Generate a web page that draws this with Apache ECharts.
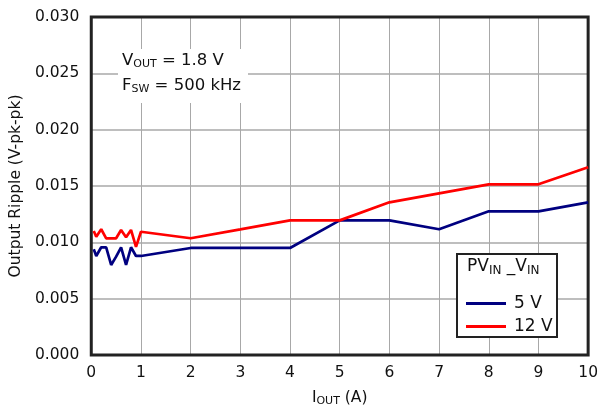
<!DOCTYPE html>
<html><head><meta charset="utf-8">
<script src="https://cdn.jsdelivr.net/npm/echarts@6/dist/echarts.min.js"></script>
<style>html,body{margin:0;padding:0;background:#fff}#c{width:601px;height:412px}</style>
</head><body><div id="c"></div>
<script>
var iout = [0.05, 0.1, 0.2, 0.3, 0.4, 0.5, 0.6, 0.7, 0.8, 0.9, 1, 2, 3, 4, 5, 6, 7, 8, 9, 10];
var ripple5V = [0.00938, 0.00879, 0.00956, 0.00956, 0.00799, 0.00873, 0.00956, 0.00799, 0.00956, 0.00879, 0.00879, 0.0095, 0.0095, 0.0095, 0.01195, 0.01195, 0.01116, 0.01275, 0.01275, 0.01355];
var ripple12V = [0.0110, 0.0105, 0.01116, 0.01036, 0.01036, 0.01036, 0.0111, 0.01045, 0.0111, 0.0096, 0.01094, 0.01036, 0.01115, 0.01195, 0.01195, 0.01355, 0.01435, 0.01515, 0.01515, 0.01666];
var seriesNames = ['5 V', '12 V'];
var xTicks = {min: 0, max: 10, interval: 1};
var yTicks = {min: 0, max: 0.03, interval: 0.005};

function pairs(xs, ys) { return xs.map(function (x, i) { return [x, ys[i]]; }); }

var font = 'DejaVu Sans, Liberation Sans, Arial, sans-serif';
var chart = echarts.init(document.getElementById('c'));
chart.setOption({
  animation: false,
  grid: {left: 89, right: 11, top: 17, bottom: 57, show: true, borderColor: '#222', borderWidth: 3, z: 3},
  xAxis: {
    type: 'value', min: xTicks.min, max: xTicks.max, interval: xTicks.interval,
    axisLine: {show: false}, axisTick: {show: false},
    axisLabel: {fontFamily: font, fontSize: 15.5, color: '#111', margin: 10},
    splitLine: {show: true, lineStyle: {color: '#a8a8a8', width: 1}},
    name: '{n|I}{s|OUT}{n| (A)}', nameLocation: 'middle', nameGap: 34,
    nameTextStyle: {rich: {n: {fontFamily: font, fontSize: 15.5, color: '#111'}, s: {fontFamily: font, fontSize: 11, color: '#111', padding: [7, 0, 0, 0]}}}
  },
  yAxis: {
    type: 'value', min: yTicks.min, max: yTicks.max, interval: yTicks.interval,
    axisLine: {show: false}, axisTick: {show: false},
    axisLabel: {fontFamily: font, fontSize: 15.5, color: '#111', margin: 12, formatter: function (v) { return v.toFixed(3); }},
    splitLine: {show: true, lineStyle: {color: '#a8a8a8', width: 1.5}},
    name: 'Output Ripple (V-pk-pk)', nameLocation: 'middle', nameGap: 60,
    nameTextStyle: {fontFamily: font, fontSize: 15.5, color: '#111'}
  },
  legend: {
    data: seriesNames, orient: 'vertical', left: 461, top: 290, z: 10,
    icon: 'rect', itemWidth: 40, itemHeight: 3, itemGap: 6,
    textStyle: {fontFamily: font, fontSize: 17, color: '#111', padding: [0, 0, 0, 3]}
  },
  graphic: [
    {type: 'rect', z: 8, shape: {x: 457, y: 254, width: 100, height: 83}, style: {fill: '#fff', stroke: '#222', lineWidth: 2}},
    {type: 'text', z: 9, left: 467, top: 258, style: {
      text: '{n|PV}{s|IN}{n| _V}{s|IN}', rich: {n: {fontFamily: font, fontSize: 17, fill: '#111'}, s: {fontFamily: font, fontSize: 12, fill: '#111', padding: [8, 0, 0, 0]}}}},
    {type: 'rect', z: 8, shape: {x: 118, y: 49, width: 130, height: 54}, style: {fill: '#fff'}},
    {type: 'text', z: 9, left: 122, top: 52, style: {
      text: '{n|V}{s|OUT}{n| = 1.8 V}\n{n|F}{s|SW}{n| = 500 kHz}',
      rich: {n: {fontFamily: font, fontSize: 16.5, fill: '#111', lineHeight: 25}, s: {fontFamily: font, fontSize: 11, fill: '#111', padding: [7, 0, 0, 0], lineHeight: 25}}}}
  ],
  series: [
    {name: seriesNames[0], type: 'line', data: pairs(iout, ripple5V), showSymbol: false, symbol: 'none', z: 5,
     itemStyle: {color: '#000080'}, lineStyle: {color: '#000080', width: 2.7}},
    {name: seriesNames[1], type: 'line', data: pairs(iout, ripple12V), showSymbol: false, symbol: 'none', z: 5,
     itemStyle: {color: '#ff0000'}, lineStyle: {color: '#ff0000', width: 2.7}}
  ]
});
</script></body></html>
